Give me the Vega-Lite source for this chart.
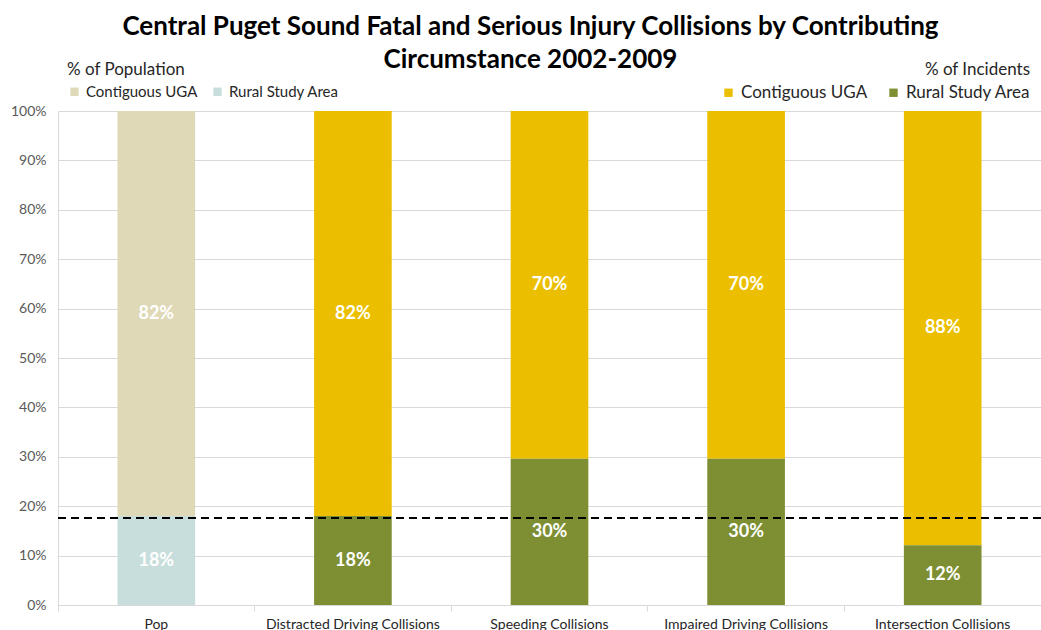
{
  "$schema": "https://vega.github.io/schema/vega-lite/v6.json",
  "width": 983,
  "height": 494,
  "autosize": {"type": "none"},
  "padding": {"left": 58, "top": 111, "right": 0, "bottom": 25},
  "background": "white",
  "title": {
    "text": ["Central Puget Sound Fatal and Serious Injury Collisions by Contributing", "Circumstance 2002-2009"],
    "font": "Lato",
    "fontSize": 26,
    "fontWeight": "bold",
    "color": "#000000",
    "lineHeight": 33,
    "anchor": "middle",
    "dx": -19,
    "offset": -11
  },
  "data": {
    "values": [
      {"category": "Pop", "group": "Contiguous UGA", "value": 0.82},
      {"category": "Pop", "group": "Rural Study Area", "value": 0.18},
      {"category": "Distracted Driving Collisions", "group": "Contiguous UGA", "value": 0.82},
      {"category": "Distracted Driving Collisions", "group": "Rural Study Area", "value": 0.18},
      {"category": "Speeding Collisions", "group": "Contiguous UGA", "value": 0.704},
      {"category": "Speeding Collisions", "group": "Rural Study Area", "value": 0.296},
      {"category": "Impaired Driving Collisions", "group": "Contiguous UGA", "value": 0.704},
      {"category": "Impaired Driving Collisions", "group": "Rural Study Area", "value": 0.296},
      {"category": "Intersection Collisions", "group": "Contiguous UGA", "value": 0.879},
      {"category": "Intersection Collisions", "group": "Rural Study Area", "value": 0.121}
    ]
  },
  "encoding": {
    "x": {
      "field": "category",
      "type": "nominal",
      "sort": null,
      "scale": {"paddingInner": 0, "paddingOuter": 0},
      "axis": {
        "title": null,
        "labelAngle": 0,
        "labelFontSize": 14,
        "labelColor": "#262626",
        "labelFont": "Lato",
        "domainColor": "#D9D9D9",
        "tickColor": "#D9D9D9",
        "tickSize": 6,
        "labelPadding": 6,
        "bandPosition": 0,
        "grid": false
      }
    }
  },
  "layer": [
    {
      "transform": [{"filter": "datum.category === 'Pop'"}],
      "mark": {"type": "bar", "width": {"band": 0.395}},
      "encoding": {
        "y": {"field": "value", "type": "quantitative", "stack": "zero"},
        "order": {"field": "group", "sort": "descending"},
        "color": {
          "field": "group",
          "type": "nominal",
          "scale": {"domain": ["Contiguous UGA", "Rural Study Area"], "range": ["#DFD9B7", "#C8DEDC"]},
          "legend": {
            "title": "% of Population",
            "orient": "none",
            "legendX": 9,
            "legendY": -49,
            "direction": "horizontal",
            "titleFontSize": 17,
            "titleFontWeight": "normal",
            "titleColor": "#262626",
            "titleFont": "Lato",
            "labelFontSize": 15,
            "labelColor": "#262626",
            "labelFont": "Lato",
            "symbolType": "square",
            "symbolSize": 70,
            "symbolStrokeWidth": 0,
            "columnPadding": 12,
            "labelOffset": 4
          }
        }
      }
    },
    {
      "transform": [{"filter": "datum.category !== 'Pop'"}],
      "mark": {"type": "bar", "width": {"band": 0.395}},
      "encoding": {
        "y": {"field": "value", "type": "quantitative", "stack": "zero"},
        "order": {"field": "group", "sort": "descending"},
        "color": {
          "field": "group",
          "type": "nominal",
          "scale": {"domain": ["Contiguous UGA", "Rural Study Area"], "range": ["#EBBF00", "#7E8F33"]},
          "legend": {
            "title": "% of Incidents",
            "orient": "none",
            "legendX": 662,
            "legendY": -49,
            "direction": "horizontal",
            "titleAnchor": "end",
            "titleFontSize": 17,
            "titleFontWeight": "normal",
            "titleColor": "#262626",
            "titleFont": "Lato",
            "labelFontSize": 17,
            "labelColor": "#262626",
            "labelFont": "Lato",
            "symbolType": "square",
            "symbolSize": 70,
            "symbolStrokeWidth": 0,
            "columnPadding": 17,
            "labelOffset": 4
          }
        }
      }
    },
    {
      "mark": {"type": "text", "color": "white", "fontSize": 18, "fontWeight": "bold", "font": "Lato", "baseline": "middle"},
      "encoding": {
        "y": {"field": "value", "type": "quantitative", "stack": "zero", "bandPosition": 0.5},
        "detail": {"field": "group"},
        "order": {"field": "group", "sort": "descending"},
        "text": {"field": "value", "type": "quantitative", "format": ".0%"}
      }
    },
    {
      "mark": {"type": "rule", "color": "black", "strokeWidth": 2, "strokeDash": [8, 5]},
      "encoding": {
        "x": null,
        "y": {"datum": 0.176, "type": "quantitative"}
      }
    }
  ],
  "resolve": {"scale": {"color": "independent"}, "legend": {"color": "independent"}},
  "config": {
    "font": "Lato",
    "view": {"stroke": null},
    "axisY": {
      "title": null,
      "format": ".0%",
      "values": [0, 0.1, 0.2, 0.3, 0.4, 0.5, 0.6, 0.7, 0.8, 0.9, 1],
      "labelFontSize": 14,
      "labelColor": "#595959",
      "labelFont": "Lato",
      "ticks": false,
      "labelPadding": 12,
      "gridColor": "#D9D9D9",
      "domainColor": "#D9D9D9"
    }
  }
}
